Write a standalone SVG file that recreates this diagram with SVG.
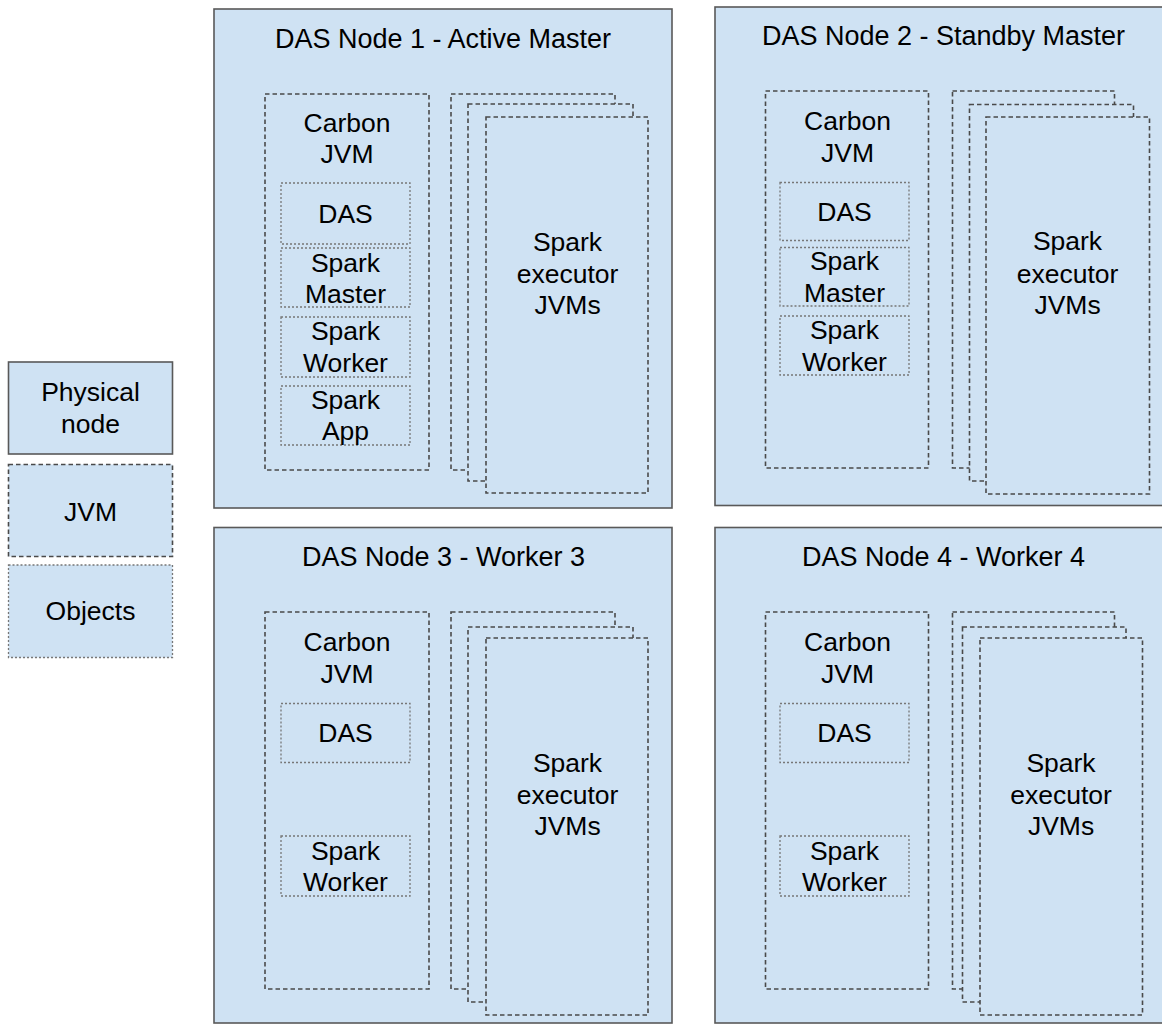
<svg xmlns="http://www.w3.org/2000/svg" width="1162" height="1025" viewBox="0 0 1162 1025">
<style>
.bg{fill:#ffffff}
.phys{fill:#cfe2f3;stroke:#595959;stroke-width:1.6}
.jvm{fill:#cfe2f3;stroke:#4a4a4a;stroke-width:1.6;stroke-dasharray:4.5 3}
.obj{fill:#cfe2f3;stroke:#777777;stroke-width:1.3;stroke-dasharray:2 2}
text{font-family:"Liberation Sans",Arial,sans-serif;font-size:26.5px;fill:#000;text-anchor:middle}
.title{font-size:27px}
</style>
<rect class="bg" x="0" y="0" width="1162" height="1025"/>

<g id="legend-physical">
<rect class="phys" x="8.5" y="362" width="164" height="92"/>
<text x="90.5" y="401">Physical</text>
<text x="90.5" y="433">node</text>
</g>
<g id="legend-jvm">
<rect class="jvm" x="8.5" y="464.5" width="164" height="92"/>
<text x="90.5" y="521">JVM</text>
</g>
<g id="legend-objects">
<rect class="obj" x="8.5" y="565" width="164" height="92.5"/>
<text x="90.5" y="620">Objects</text>
</g>

<g id="node1">
<rect class="phys" x="214" y="9" width="458" height="499"/>
<text class="title" x="443" y="48">DAS Node 1 - Active Master</text>
<g id="node1-carbon">
<rect class="jvm" x="265" y="94" width="164" height="376"/>
<text x="347" y="131.5">Carbon</text>
<text x="347" y="163">JVM</text>
<rect class="obj" x="281" y="183" width="129" height="61"/>
<text x="345.5" y="222.5">DAS</text>
<rect class="obj" x="281" y="248" width="129" height="59"/>
<text x="345.5" y="271.5">Spark</text>
<text x="345.5" y="303">Master</text>
<rect class="obj" x="281" y="317" width="129" height="60"/>
<text x="345.5" y="340">Spark</text>
<text x="345.5" y="371.5">Worker</text>
<rect class="obj" x="281" y="386" width="129" height="59"/>
<text x="345.5" y="408.5">Spark</text>
<text x="345.5" y="440">App</text>
</g>
<g id="node1-executors">
<rect class="jvm" x="451" y="94" width="164" height="376"/>
<rect class="jvm" x="468" y="104" width="165" height="377"/>
<rect class="jvm" x="486" y="117" width="162" height="376"/>
<text x="567.5" y="250.5">Spark</text>
<text x="567.5" y="282.5">executor</text>
<text x="567.5" y="313.5">JVMs</text>
</g>
</g>

<g id="node2">
<rect class="phys" x="715" y="7" width="460" height="498.5"/>
<text class="title" x="943.5" y="45">DAS Node 2 - Standby Master</text>
<g id="node2-carbon">
<rect class="jvm" x="765.5" y="91" width="163" height="377"/>
<text x="847.5" y="130">Carbon</text>
<text x="847.5" y="161.5">JVM</text>
<rect class="obj" x="780" y="182.5" width="129" height="58"/>
<text x="844.5" y="221">DAS</text>
<rect class="obj" x="780" y="247.5" width="129" height="58.5"/>
<text x="844.5" y="270">Spark</text>
<text x="844.5" y="301.5">Master</text>
<rect class="obj" x="780" y="316" width="129" height="59"/>
<text x="844.5" y="338.5">Spark</text>
<text x="844.5" y="370.5">Worker</text>
</g>
<g id="node2-executors">
<rect class="jvm" x="952.5" y="91" width="162" height="377"/>
<rect class="jvm" x="969.5" y="104.5" width="164" height="376.5"/>
<rect class="jvm" x="986" y="117" width="163.5" height="377"/>
<text x="1067.5" y="250">Spark</text>
<text x="1067.5" y="282.5">executor</text>
<text x="1067.5" y="313.5">JVMs</text>
</g>
</g>

<g id="node3">
<rect class="phys" x="214" y="527.5" width="458" height="495.5"/>
<text class="title" x="443.5" y="566">DAS Node 3 - Worker 3</text>
<g id="node3-carbon">
<rect class="jvm" x="265" y="612" width="164" height="377"/>
<text x="347" y="650.5">Carbon</text>
<text x="347" y="682.5">JVM</text>
<rect class="obj" x="281" y="703.5" width="129" height="59"/>
<text x="345.5" y="741.5">DAS</text>
<rect class="obj" x="281" y="836" width="129" height="60"/>
<text x="345.5" y="859.5">Spark</text>
<text x="345.5" y="891">Worker</text>
</g>
<g id="node3-executors">
<rect class="jvm" x="451" y="612" width="164" height="377"/>
<rect class="jvm" x="468" y="627" width="165" height="375"/>
<rect class="jvm" x="486" y="638" width="162" height="377"/>
<text x="567.5" y="771.5">Spark</text>
<text x="567.5" y="804">executor</text>
<text x="567.5" y="835">JVMs</text>
</g>
</g>

<g id="node4">
<rect class="phys" x="715" y="527.5" width="460" height="495.5"/>
<text class="title" x="943.5" y="566">DAS Node 4 - Worker 4</text>
<g id="node4-carbon">
<rect class="jvm" x="765.5" y="612" width="163" height="377"/>
<text x="847.5" y="650.5">Carbon</text>
<text x="847.5" y="682.5">JVM</text>
<rect class="obj" x="780" y="703.5" width="129" height="59"/>
<text x="844.5" y="741.5">DAS</text>
<rect class="obj" x="780" y="836" width="129" height="60"/>
<text x="844.5" y="859.5">Spark</text>
<text x="844.5" y="891">Worker</text>
</g>
<g id="node4-executors">
<rect class="jvm" x="952.5" y="612" width="162" height="377"/>
<rect class="jvm" x="962.5" y="627" width="163.5" height="375"/>
<rect class="jvm" x="980" y="638" width="162.5" height="377"/>
<text x="1061" y="771.5">Spark</text>
<text x="1061" y="804">executor</text>
<text x="1061" y="835">JVMs</text>
</g>
</g>

<g id="connectors"></g>
</svg>
